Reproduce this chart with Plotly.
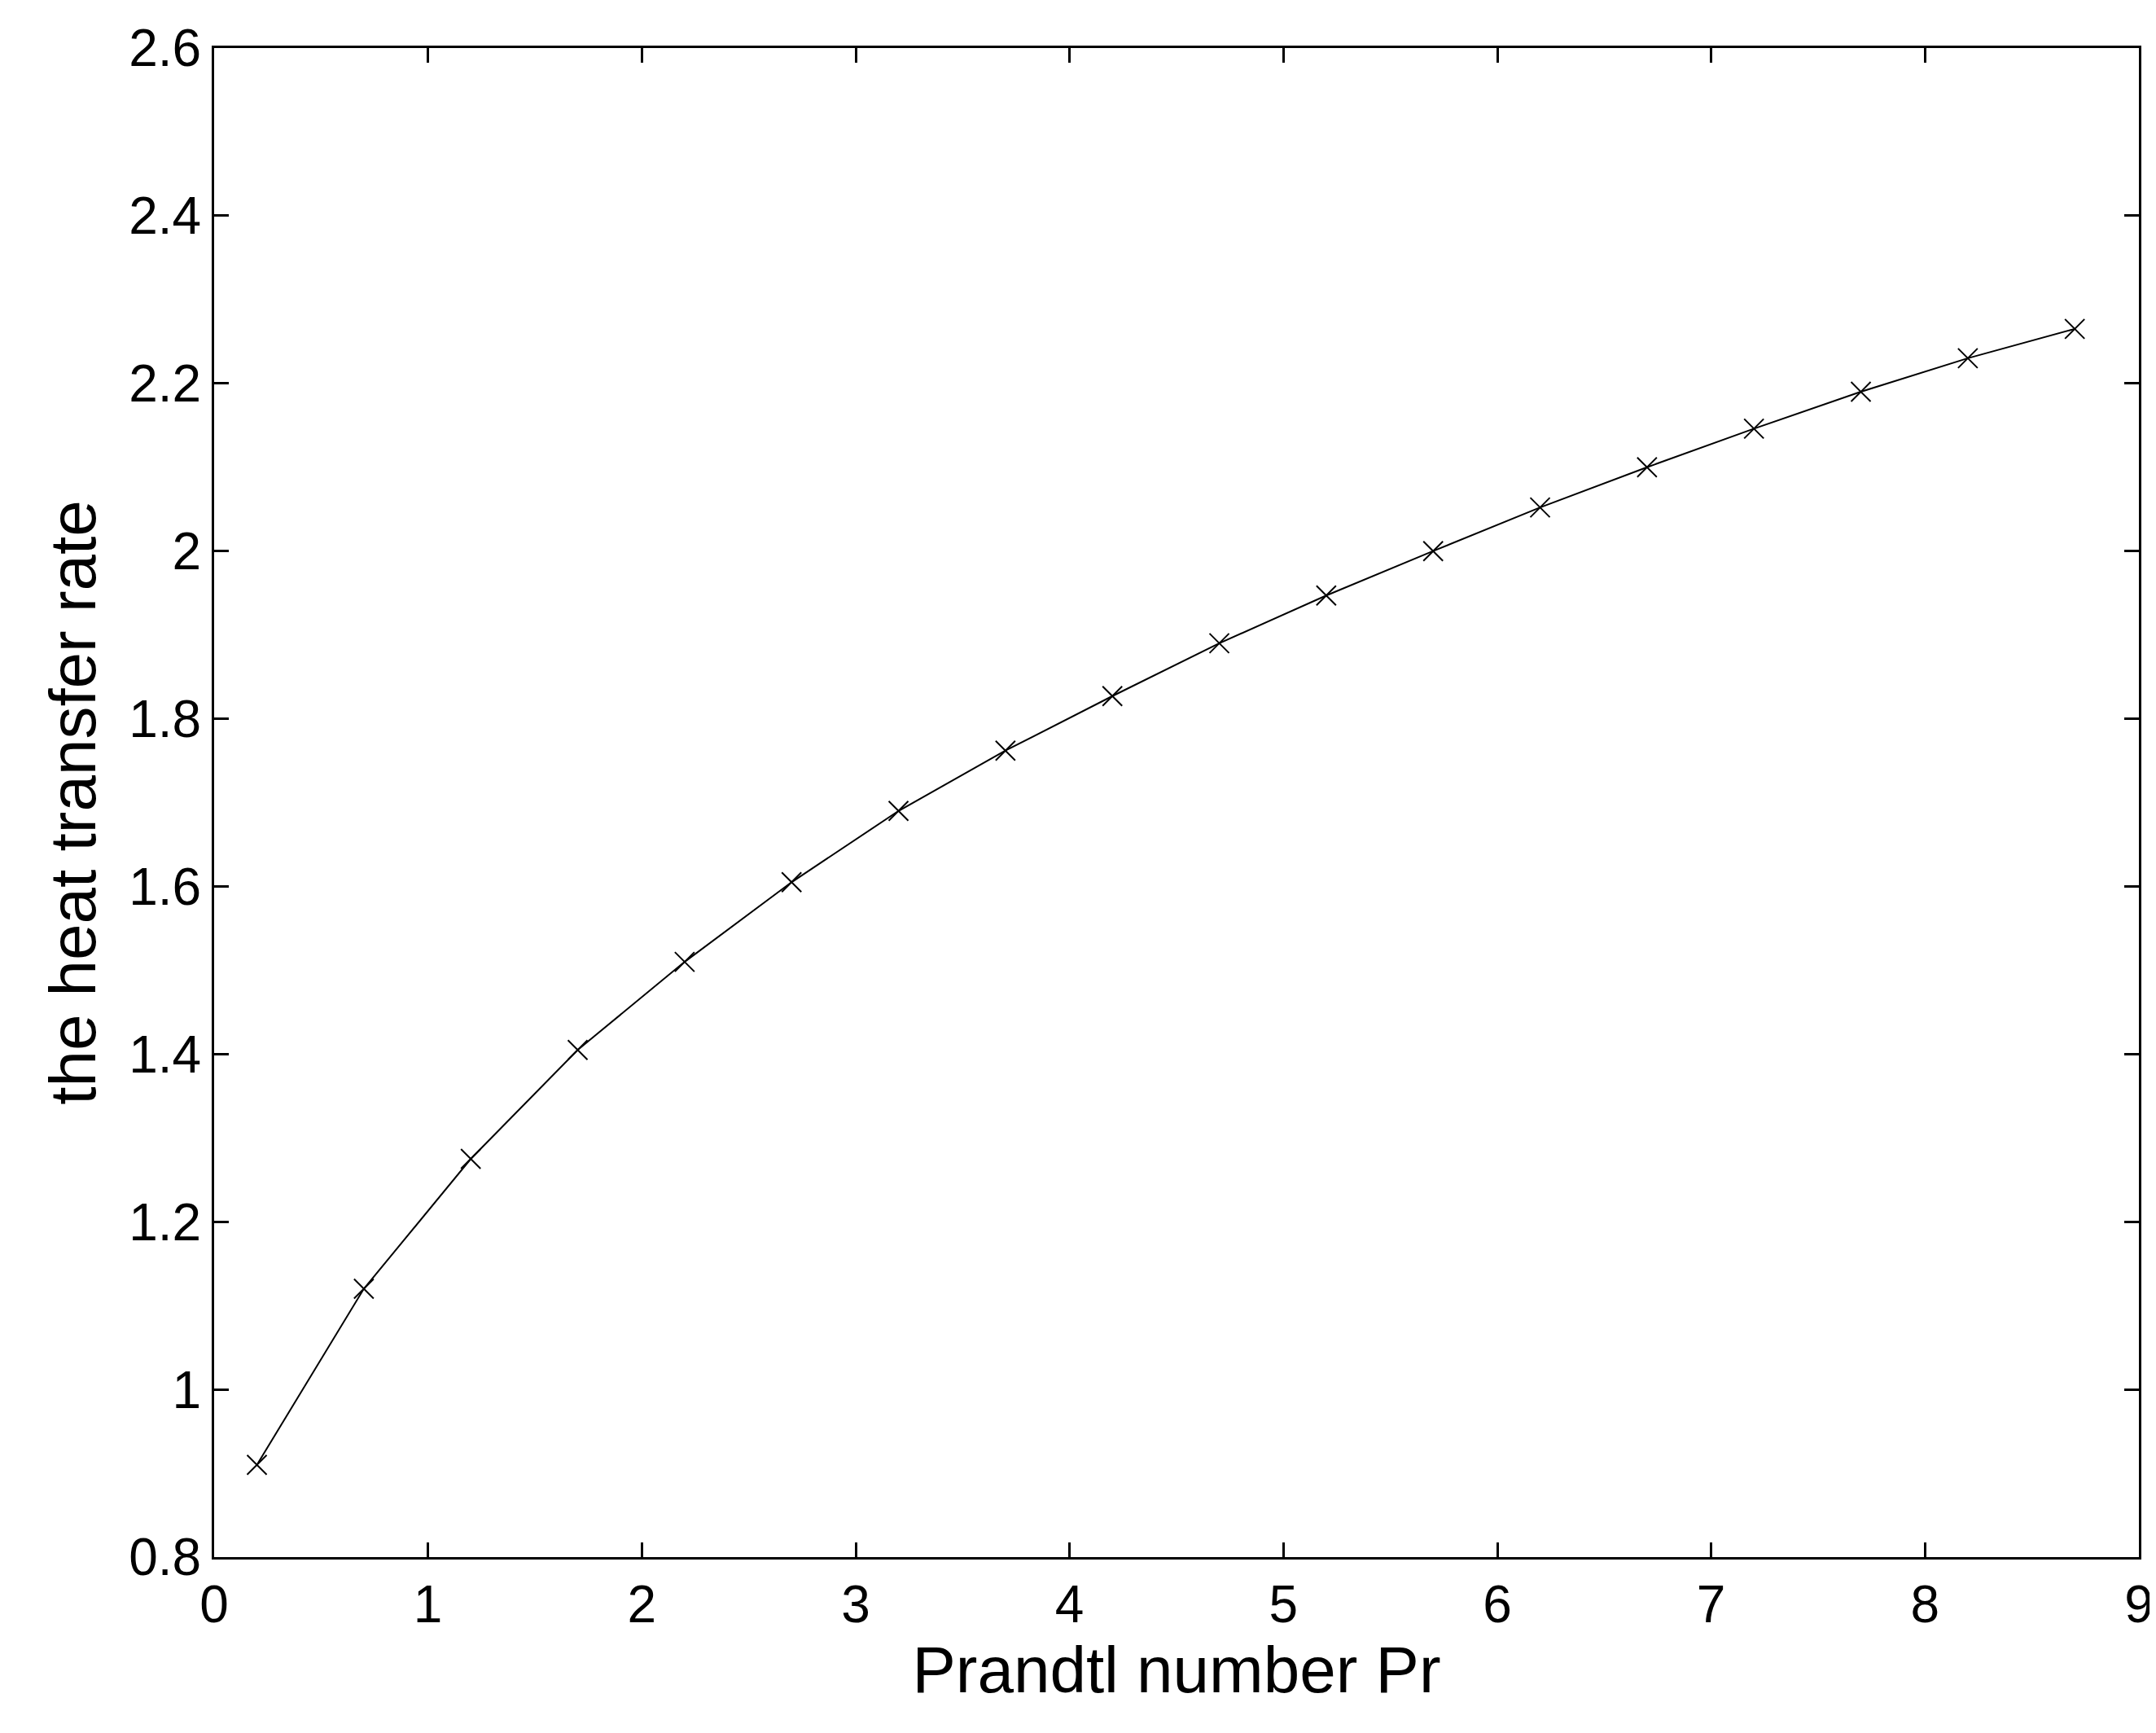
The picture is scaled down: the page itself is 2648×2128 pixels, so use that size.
import plotly.graph_objects as go

pr = [0.2, 0.7, 1.2, 1.7, 2.2, 2.7, 3.2, 3.7, 4.2, 4.7, 5.2, 5.7, 6.2, 6.7, 7.2, 7.7, 8.2, 8.7]
rate = [0.91, 1.12, 1.275, 1.405, 1.51, 1.605, 1.69, 1.762, 1.827, 1.89, 1.947, 2.0, 2.052, 2.1, 2.146, 2.19, 2.23, 2.265]

fig = go.Figure(go.Scatter(x=pr, y=rate, mode="lines+markers",
    line=dict(color="black", width=2),
    marker=dict(symbol="x-thin", size=24, line=dict(color="black", width=2))))

ax = dict(showgrid=False, zeroline=False, showline=True, mirror="ticks", linecolor="black",
          linewidth=3, ticks="inside", ticklen=18, tickwidth=3, tickcolor="black",
          tickfont=dict(family="Liberation Sans", size=64, color="black"))
fig.update_xaxes(range=[0, 9], dtick=1, title=dict(text="Prandtl number Pr", font=dict(family="Liberation Sans", size=80, color="black"), standoff=15), **ax)
fig.update_yaxes(range=[0.8, 2.6], tickvals=[0.8,1,1.2,1.4,1.6,1.8,2,2.2,2.4,2.6],
                 ticktext=["0.8","1","1.2","1.4","1.6","1.8","2","2.2","2.4","2.6"],
                 title=dict(text="the heat transfer rate", font=dict(family="Liberation Sans", size=80, color="black"), standoff=15), **ax)
fig.update_layout(width=2648, height=2128, margin=dict(l=255, r=29, t=51, b=224),
                  plot_bgcolor="white", paper_bgcolor="white", showlegend=False)
fig.write_html("out.html")
